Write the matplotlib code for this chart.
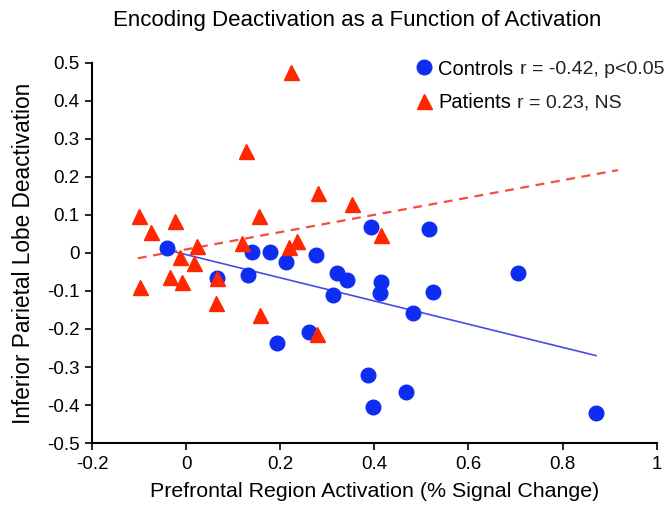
import matplotlib
matplotlib.use("Agg")
import matplotlib.pyplot as plt
from matplotlib.lines import Line2D

plt.rcParams['font.family'] = ['Liberation Sans', 'DejaVu Sans']

# values
ctrl_x = [-0.041, 0.065, 0.132, 0.140, 0.177, 0.193, 0.212, 0.275, 0.261, 0.313, 0.321, 0.341,
          0.393, 0.387, 0.398, 0.414, 0.412, 0.482, 0.517, 0.524, 0.467, 0.706, 0.871]
ctrl_y = [0.012, -0.066, -0.057, 0.003, 0.002, -0.236, -0.024, -0.005, -0.207, -0.111, -0.053, -0.071,
          0.068, -0.321, -0.404, -0.076, -0.106, -0.157, 0.062, -0.102, -0.365, -0.053, -0.422]

pat_x = [-0.101, -0.076, -0.025, -0.098, -0.034, -0.014, -0.008, 0.023, 0.016, 0.065, 0.063,
         0.127, 0.118, 0.155, 0.156, 0.223, 0.219, 0.235, 0.281, 0.278, 0.352, 0.414]
pat_y = [0.096, 0.054, 0.085, -0.090, -0.062, -0.011, -0.076, 0.017, -0.026, -0.066, -0.132,
         0.267, 0.026, 0.097, -0.163, 0.477, 0.015, 0.032, 0.157, -0.214, 0.128, 0.047]

# regression line end points
ctrl_fit_x = [-0.041, 0.871]
ctrl_fit_y = [0.008, -0.270]
pat_fit_x = [-0.103, 0.918]
pat_fit_y = [-0.014, 0.218]

x_ticks = [-0.2, 0, 0.2, 0.4, 0.6, 0.8, 1.0]
x_tick_labels = ["-0.2", "0", "0.2", "0.4", "0.6", "0.8", "1"]
y_ticks = [0.5, 0.4, 0.3, 0.2, 0.1, 0, -0.1, -0.2, -0.3, -0.4, -0.5]
y_tick_labels = ["0.5", "0.4", "0.3", "0.2", "0.1", "0", "-0.1", "-0.2", "-0.3", "-0.4", "-0.5"]

group_labels = ["Controls", "Patients"]
group_stats = ["r = -0.42, p<0.05", "r = 0.23, NS"]

BLUE = "#0d2ef2"
LINE_BLUE = "#4a4ae6"
RED = "#ff2600"
LINE_RED = "#f0503c"

fig = plt.figure(figsize=(6.68, 5.11), dpi=100)
ax = fig.add_axes([0.138, 0.133, 0.845, 0.744])

ax.plot(ctrl_fit_x, ctrl_fit_y, color=LINE_BLUE, lw=1.2, zorder=1)
ax.plot(pat_fit_x, pat_fit_y, color=LINE_RED, lw=1.6, ls=(0, (4, 3)), zorder=1)

ax.plot(ctrl_x, ctrl_y, ls="none", marker="o", ms=10.5, color=BLUE, mec=BLUE, zorder=2)
ax.plot(pat_x, pat_y, ls="none", marker="^", ms=10.8, color=RED, mec=RED, zorder=3)

ax.set_xlim(-0.2, 1.0)
ax.set_ylim(-0.5, 0.5)
ax.set_xticks(x_ticks)
ax.set_xticklabels(x_tick_labels)
ax.set_yticks(y_ticks)
ax.set_yticklabels(y_tick_labels)
ax.tick_params(direction="out", length=5, width=1.2, labelsize=13.5, colors="black", pad=4)

for side in ["top", "right"]:
    ax.spines[side].set_visible(False)
for side in ["left", "bottom"]:
    ax.spines[side].set_linewidth(1.5)

ax.set_xlabel("Prefrontal Region Activation (% Signal Change)", fontsize=15.4, labelpad=7)
ax.set_ylabel("Inferior Parietal Lobe Deactivation", fontsize=16.3, labelpad=9)
fig.text(0.534, 0.96, "Encoding Deactivation as a Function of Activation",
         fontsize=16, ha="center", va="center")

# legend: marker + group name, with the stats in smaller type after it
handles = [Line2D([], [], ls="none", marker="o", ms=10.5, color=BLUE),
           Line2D([], [], ls="none", marker="^", ms=10.8, color=RED)]
leg = ax.legend(handles, group_labels, loc="upper left", bbox_to_anchor=(0.56, 1.03),
                frameon=False, fontsize=14.5, handlelength=0.8, handletextpad=0.3,
                labelspacing=0.72, borderaxespad=0)

fig.canvas.draw()
renderer = fig.canvas.get_renderer()
inv = fig.transFigure.inverted()
for txt, stat in zip(leg.get_texts(), group_stats):
    bb = txt.get_window_extent(renderer)
    x0, y0 = inv.transform((bb.x1 + 6, (bb.y0 + bb.y1) / 2))
    fig.text(x0, y0, stat, fontsize=14, ha="left", va="center", color="#222222")

fig.savefig("out.png", dpi=100)
